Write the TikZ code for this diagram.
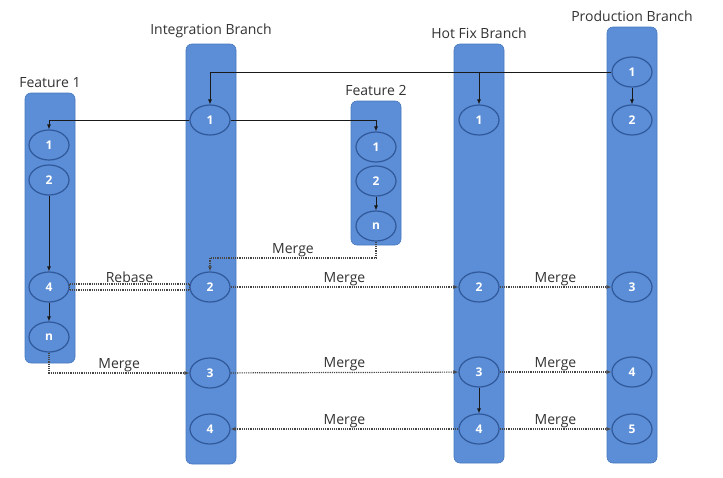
\documentclass[tikz,border=0pt]{standalone}
\usepackage{fontspec}
\setmainfont{Open Sans}
\usetikzlibrary{shapes.geometric, arrows.meta, positioning}
\definecolor{barblue}{RGB}{91,142,214}
\definecolor{barline}{RGB}{72,120,190}
\definecolor{ringblue}{RGB}{48,88,155}
\definecolor{linedark}{RGB}{25,25,25}
\definecolor{mergegray}{RGB}{70,70,70}
\definecolor{labelgray}{RGB}{50,50,50}
\tikzset{
  branchbar/.style={rectangle, draw=barline, fill=barblue,
    minimum width=50pt, rounded corners=6pt, line width=0.6pt},
  commit/.style={ellipse, draw=ringblue, fill=barblue,
    minimum width=40pt, minimum height=30pt, inner sep=0pt,
    font=\fontsize{12}{14}\selectfont\bfseries, text=white, line width=1.2pt},
  title/.style={font=\fontsize{14}{16}\selectfont, text=labelgray},
  mlabel/.style={font=\fontsize{14}{16}\selectfont, text=labelgray,
    above, inner sep=1pt},
  flow/.style={-{Latex[length=5pt,width=4pt]}, thick, color=linedark},
  merge/.style={-{Latex[length=5pt,width=4pt]}, densely dotted,
    line width=1.2pt, color=mergegray},
  rebase/.style={densely dotted, line width=1.2pt, color=mergegray}
}

\begin{document}
\begin{tikzpicture}[x=1pt, y=-1pt]
  \useasboundingbox (0,0) rectangle (723,477);

  % Branch bars
  \node[branchbar, minimum height=270pt] (f1bar) at (50,228) {};
  \node[branchbar, minimum height=420pt] (intbar) at (211,254) {};
  \node[branchbar, minimum height=144pt] (f2bar) at (376,173) {};
  \node[branchbar, minimum height=419pt] (hfbar) at (479,253.5) {};
  \node[branchbar, minimum height=436pt] (prodbar) at (632,245) {};

  % Branch titles
  \node[title, above=2pt of f1bar] {Feature 1};
  \node[title, above=2pt of intbar] {Integration Branch};
  \node[title, above=2pt of f2bar] {Feature 2};
  \node[title, above=2pt of hfbar] {Hot Fix Branch};
  \node[title, above=2pt of prodbar] {Production Branch};

  % Feature 1
  \node[commit] (f1a) at (49,145) {1};
  \node[commit] (f1b) at (49,180) {2};
  \node[commit] (f1d) at (49,287) {4};
  \node[commit] (f1n) at (49,337) {n};

  % Integration Branch
  \node[commit] (i1) at (210,120) {1};
  \node[commit] (i2) at (210,287) {2};
  \node[commit] (i3) at (210,373) {3};
  \node[commit] (i4) at (210,429) {4};

  % Feature 2
  \node[commit] (f2a) at (376,147) {1};
  \node[commit] (f2b) at (376,181) {2};
  \node[commit] (f2n) at (376,226) {n};

  % Hot Fix Branch
  \node[commit] (h1) at (479,120) {1};
  \node[commit] (h2) at (479,287) {2};
  \node[commit] (h3) at (479,372) {3};
  \node[commit] (h4) at (479,429) {4};

  % Production Branch
  \node[commit] (p1) at (632,72) {1};
  \node[commit] (p2) at (632,120) {2};
  \node[commit] (p3) at (632,287) {3};
  \node[commit] (p4) at (632,372) {4};
  \node[commit] (p5) at (632,429) {5};

  % Branching off
  \draw[flow] (p1.west) -| (i1.north);
  \draw[flow] (p1.west -| h1.north) -- (h1.north);
  \draw[flow] (p1) -- (p2);
  \draw[flow] (i1.west) -| (f1a.north);
  \draw[flow] (i1.east) -| (f2a.north);
  \draw[flow] (f1b) -- (f1d);
  \draw[flow] (f1d) -- (f1n);
  \draw[flow] (f2b) -- (f2n);
  \draw[flow] (h3) -- (h4);

  % Rebase
  \draw[rebase] ([yshift=3pt]f1d.east) -- ([yshift=3pt]i2.west)
    node[mlabel, midway] {Rebase};
  \draw[rebase] ([yshift=-3pt]f1d.east) -- ([yshift=-3pt]i2.west);
  \draw[rebase] ([yshift=-3pt]i2.west) -- ([yshift=3pt]i2.west);
  \draw[rebase] ([yshift=-3pt]f1d.east) -- ([yshift=3pt]f1d.east);

  % Merges
  \coordinate (f2drop) at (376,258);
  \draw[merge] (f2n.south) -- (f2drop) -| node[mlabel, pos=0.25] {Merge} (i2.north);
  \draw[merge] (f1n.south) |- node[mlabel, pos=0.75] {Merge} (i3.west);
  \draw[merge] (i2) -- node[mlabel] {Merge} (h2);
  \draw[merge] (h2) -- node[mlabel] {Merge} (p3);
  \draw[merge] (i3) -- node[mlabel] {Merge} (h3);
  \draw[merge] (h3) -- node[mlabel] {Merge} (p4);
  \draw[merge] (h4) -- node[mlabel] {Merge} (i4);
  \draw[merge] (h4) -- node[mlabel] {Merge} (p5);
\end{tikzpicture}
\end{document}
